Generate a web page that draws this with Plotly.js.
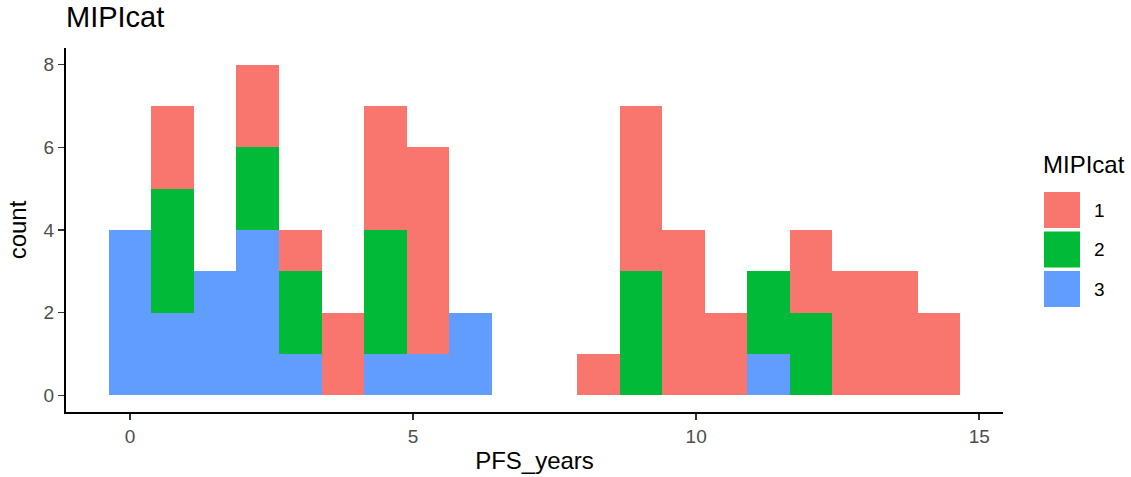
<!DOCTYPE html>
<html>
<head>
<meta charset="utf-8">
<script src="https://cdn.plot.ly/plotly-3.0.1.min.js"></script>
<style>html,body{margin:0;padding:0;background:#fff;}#chart{width:1131px;height:477px;}</style>
</head>
<body>
<div id="chart"></div>
<script>
// Histogram bins (20 bins), bin width in years
const binWidth = 0.752;
const binIndex = [0,1,2,3,4,5,6,7,8,9,10,11,12,13,14,15,16,17,18,19];
const binCenters = binIndex.map(i => i * binWidth);
// counts per MIPIcat
const count_cat1 = [0,2,0,2,1,2,3,5,0,0,0,1,4,4,2,0,2,3,3,2];
const count_cat2 = [0,3,0,2,2,0,3,0,0,0,0,0,3,0,0,2,2,0,0,0];
const count_cat3 = [4,2,3,4,1,0,1,1,2,0,0,0,0,0,0,1,0,0,0,0];
const categories = ["1","2","3"];
const colors = {"1":"#F8766D","2":"#00BA38","3":"#619CFF"};
const xTicks = [0,5,10,15];
const yTicks = [0,2,4,6,8];

const FONT = "Liberation Sans, Arial, sans-serif";
const series = {"1":count_cat1,"2":count_cat2,"3":count_cat3};

// stack order: 3 at bottom, then 2, then 1
const traces = ["3","2","1"].map(c => ({
  type: "bar",
  x: binCenters,
  y: series[c],
  width: binWidth,
  name: c,
  marker: {color: colors[c], line: {width: 0}},
  showlegend: false,
  hoverinfo: "x+y+name"
}));

// plot area in pixels
const L = 66, R = 1003, T = 48, B = 412, W = 1131, H = 477;
const px2x = p => (p - L) / (R - L);
const py2y = p => (B - p) / (B - T);

const shapes = [];
const annotations = [];
const keyTop = 192, keySize = 36, keyStep = 39.5, keyLeft = 1044;
categories.forEach((c, i) => {
  const y0 = keyTop + i * keyStep;
  shapes.push({type:"rect", xref:"paper", yref:"paper",
    x0: px2x(keyLeft), x1: px2x(keyLeft + keySize), y0: py2y(y0 + keySize), y1: py2y(y0),
    fillcolor: colors[c], line: {width: 0}});
  annotations.push({xref:"paper", yref:"paper", x: px2x(1092), y: py2y(y0 + keySize/2),
    text: c, showarrow:false, xanchor:"left", yanchor:"middle",
    font:{family:FONT, size:19, color:"#000"}});
});
annotations.push({xref:"paper", yref:"paper", x: px2x(1041), y: py2y(164),
  text:"MIPIcat", showarrow:false, xanchor:"left", yanchor:"middle",
  font:{family:FONT, size:24, color:"#000"}});

const layout = {
  width: W, height: H,
  margin: {l: L, r: W - R, t: T, b: H - B},
  paper_bgcolor: "#fff", plot_bgcolor: "#fff",
  barmode: "stack", bargap: 0,
  title: {text: "MIPIcat", x: 0, xref: "paper", xanchor: "left",
    y: 1 - 17/477, yref: "container", yanchor: "middle",
    font: {family: FONT, size: 29, color: "#000"}},
  xaxis: {range: [-1.13, 15.42], tickvals: xTicks, ticktext: xTicks.map(String),
    showgrid: false, zeroline: false, showline: true, linecolor: "#000", linewidth: 2,
    ticks: "outside", ticklen: 6, tickwidth: 1.5, tickcolor: "#333",
    tickfont: {family: FONT, size: 19, color: "#4d4d4d"},
    title: {text: "PFS_years", font: {family: FONT, size: 24, color: "#000"}, standoff: 6}},
  yaxis: {range: [-0.4, 8.4], tickvals: yTicks, ticktext: yTicks.map(String),
    showgrid: false, zeroline: false, showline: true, linecolor: "#000", linewidth: 2,
    ticks: "outside", ticklen: 6, tickwidth: 1.5, tickcolor: "#333",
    tickfont: {family: FONT, size: 19, color: "#4d4d4d"},
    title: {text: "count", font: {family: FONT, size: 24, color: "#000"}, standoff: 10}},
  shapes: shapes,
  annotations: annotations,
  showlegend: false
};

Plotly.newPlot("chart", traces, layout, {displayModeBar: false, staticPlot: true});
</script>
</body>
</html>
